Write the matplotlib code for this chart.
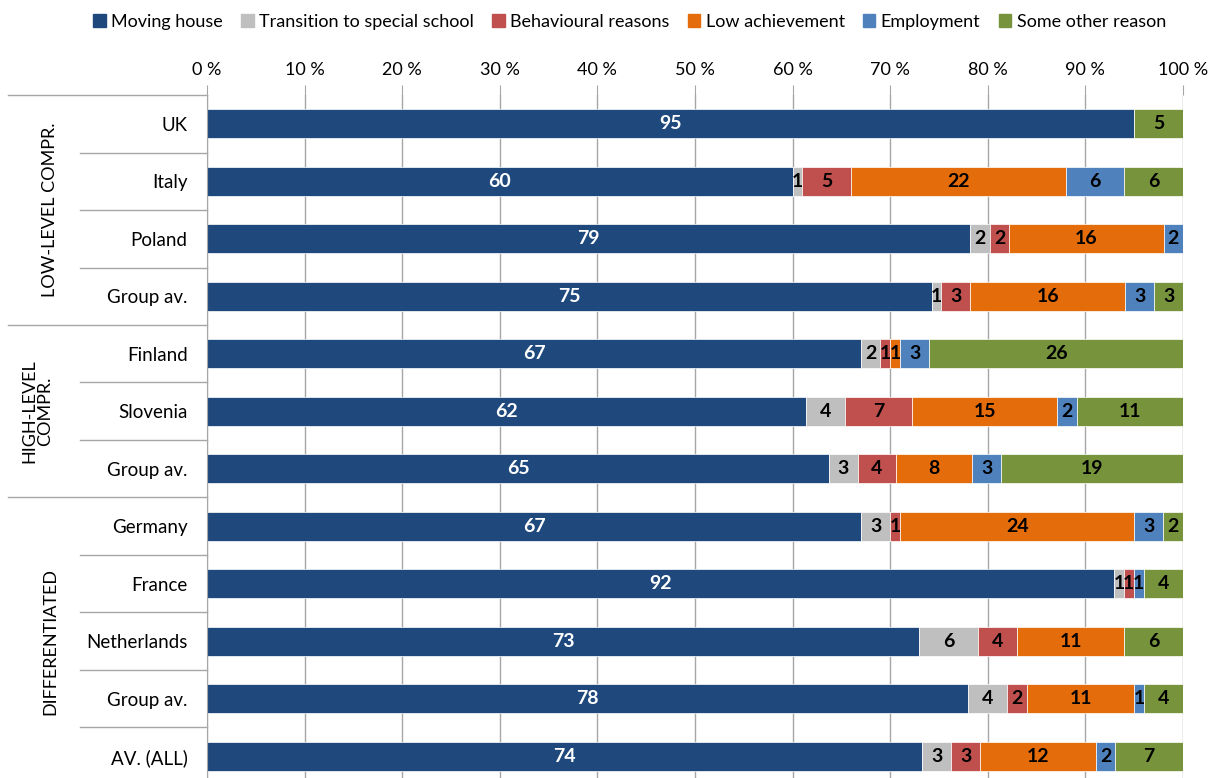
import matplotlib.pyplot as plt
import numpy as np
from matplotlib.transforms import blended_transform_factory
from matplotlib.patches import Patch

plt.rcParams['font.family'] = ['Lato', 'DejaVu Sans']

# Rows from top to bottom
rows = ['UK', 'Italy', 'Poland', 'Group av.', 'Finland', 'Slovenia', 'Group av.',
        'Germany', 'France', 'Netherlands', 'Group av.', 'AV. (ALL)']
reasons = ['Moving house', 'Transition to special school', 'Behavioural reasons',
           'Low achievement', 'Employment', 'Some other reason']

# Share of each reason per row (%)
moving = [95, 60, 79, 75, 67, 62, 65, 67, 92, 73, 78, 74]
special = [0, 1, 2, 1, 2, 4, 3, 3, 1, 6, 4, 3]
behaviour = [0, 5, 2, 3, 1, 7, 4, 1, 1, 4, 2, 3]
low_ach = [0, 22, 16, 16, 1, 15, 8, 24, 0, 11, 11, 12]
employment = [0, 6, 2, 3, 3, 2, 3, 3, 1, 0, 1, 2]
other = [5, 6, 0, 3, 26, 11, 19, 2, 4, 6, 4, 7]

groups = [('LOW-LEVEL COMPR.', 0, 3), ('HIGH-LEVEL\nCOMPR.', 4, 6),
          ('DIFFERENTIATED', 7, 11)]

colors = ['#1F497D', '#BFBFBF', '#C0504D', '#E46C0A', '#4F81BD', '#77933C']
text_colors = ['white', 'black', 'black', 'black', 'black', 'black']

data = np.array([moving, special, behaviour, low_ach, employment, other], dtype=float)
# each row is shown as 100 %
shares = data / data.sum(axis=0) * 100

W, H = 1213, 778
fig = plt.figure(figsize=(W / 100, H / 100), dpi=100)
ax = fig.add_axes([207 / W, 1 - 785 / H, 976 / W, 690 / H])

y = np.arange(len(rows))
left = np.zeros(len(rows))
for k in range(len(reasons)):
    ax.barh(y, shares[k], left=left, height=0.5, color=colors[k],
            edgecolor='white', linewidth=0.5, zorder=2)
    for i in range(len(rows)):
        v = int(data[k, i])
        if v > 0:
            ax.text(left[i] + shares[k, i] / 2, y[i], str(v), ha='center', va='center',
                    fontsize=14, fontweight='bold', color=text_colors[k], zorder=3)
    left += shares[k]

ax.set_xlim(0, 100)
ax.set_ylim(len(rows) - 0.5, -0.5)
ax.set_xticks(np.arange(0, 101, 10))
ax.set_xticklabels([f'{v} %' for v in range(0, 101, 10)])
ax.xaxis.tick_top()
ax.tick_params(axis='x', length=7, color='#A6A6A6', labelsize=13, pad=5)
ax.set_yticks(y)
ax.set_yticklabels(rows)
ax.tick_params(axis='y', length=0, labelsize=13.5, pad=14)
ax.grid(axis='x', color='#A6A6A6', linewidth=1, zorder=0)
ax.set_axisbelow(True)
for s in ['top', 'right', 'bottom']:
    ax.spines[s].set_visible(False)
ax.spines['left'].set_color('#A6A6A6')

# separator lines in the label area
tr = blended_transform_factory(fig.transFigure, ax.transData)
x_end = 207 / W
for b in np.arange(-0.5, len(rows) - 1, 1.0):
    start = 8 / W if b in (-0.5, 3.5, 6.5) else 80 / W
    ax.plot([start, x_end], [b, b], color='#A6A6A6', lw=1, transform=tr, clip_on=False)

# group names
for name, a, b in groups:
    ax.text(50 / W if '\n' not in name else 37 / W, (a + b) / 2, name, rotation=90,
            ha='center', va='center', fontsize=13, transform=tr, linespacing=1.0)

handles = [Patch(color=c) for c in colors]
fig.legend(handles, reasons, loc='center', bbox_to_anchor=(0.519, 1 - 22 / H), ncol=6,
           frameon=False, fontsize=13, handlelength=0.7, handleheight=0.7,
           handletextpad=0.3, columnspacing=1.0)

fig.savefig('out.png', dpi=100)
